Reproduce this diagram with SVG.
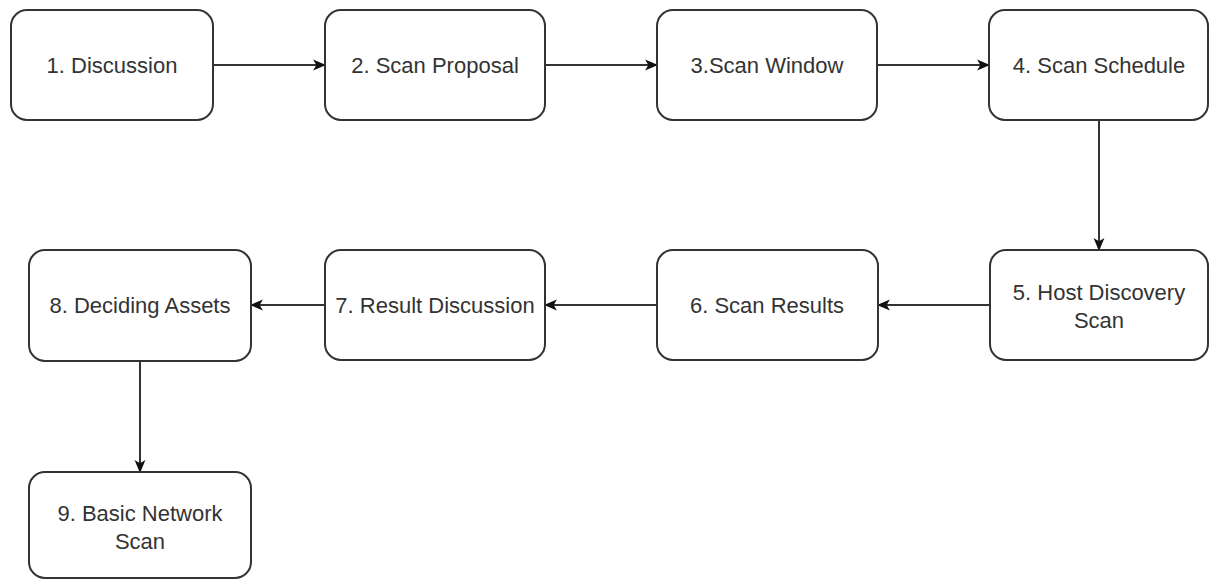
<svg xmlns="http://www.w3.org/2000/svg" width="1209" height="580" viewBox="0 0 1209 580">
  <style>
    .box { fill: #ffffff; stroke: #333333; stroke-width: 2; }
    .lbl { font-family: "Liberation Sans", Arial, sans-serif; font-size: 22px; fill: #333333; text-anchor: middle; dominant-baseline: central; }
    .edge { fill: none; stroke: #333333; stroke-width: 2; marker-end: url(#arrow); }
  </style>
  <defs>
    <marker id="arrow" viewBox="0 0 12 12" refX="11" refY="6" markerWidth="13" markerHeight="13" markerUnits="userSpaceOnUse" orient="auto">
      <path d="M0,1 L12,6 L0,11 L3,6 Z" fill="#111111"/>
    </marker>
  </defs>
  <rect width="1209" height="580" fill="#ffffff"/>

  <g id="connectors">
    <path class="edge" d="M213,65 H325"/>
    <path class="edge" d="M545,65 H657"/>
    <path class="edge" d="M877,65 H989"/>
    <path class="edge" d="M1099,120 V250"/>
    <path class="edge" d="M990,305 H878"/>
    <path class="edge" d="M657,305 H545"/>
    <path class="edge" d="M325,305 H251"/>
    <path class="edge" d="M140,361 V472"/>
  </g>

  <g id="n1">
    <rect class="box" x="11" y="10" width="202" height="110" rx="16"/>
    <text class="lbl" x="112" y="65">1. Discussion</text>
  </g>
  <g id="n2">
    <rect class="box" x="325" y="10" width="220" height="110" rx="16"/>
    <text class="lbl" x="435" y="65">2. Scan Proposal</text>
  </g>
  <g id="n3">
    <rect class="box" x="657" y="10" width="220" height="110" rx="16"/>
    <text class="lbl" x="767" y="65">3.Scan Window</text>
  </g>
  <g id="n4">
    <rect class="box" x="989" y="10" width="219" height="110" rx="16"/>
    <text class="lbl" x="1099" y="65">4. Scan Schedule</text>
  </g>
  <g id="n5">
    <rect class="box" x="990" y="250" width="218" height="110" rx="16"/>
    <text class="lbl" x="1099" y="292">5. Host Discovery</text>
    <text class="lbl" x="1099" y="320">Scan</text>
  </g>
  <g id="n6">
    <rect class="box" x="657" y="250" width="221" height="110" rx="16"/>
    <text class="lbl" x="767" y="305">6. Scan Results</text>
  </g>
  <g id="n7">
    <rect class="box" x="325" y="250" width="220" height="110" rx="16"/>
    <text class="lbl" x="435" y="305">7. Result Discussion</text>
  </g>
  <g id="n8">
    <rect class="box" x="29" y="250" width="222" height="111" rx="16"/>
    <text class="lbl" x="140" y="305">8. Deciding Assets</text>
  </g>
  <g id="n9">
    <rect class="box" x="29" y="472" width="222" height="106" rx="16"/>
    <text class="lbl" x="140" y="513">9. Basic Network</text>
    <text class="lbl" x="140" y="541">Scan</text>
  </g>
</svg>
